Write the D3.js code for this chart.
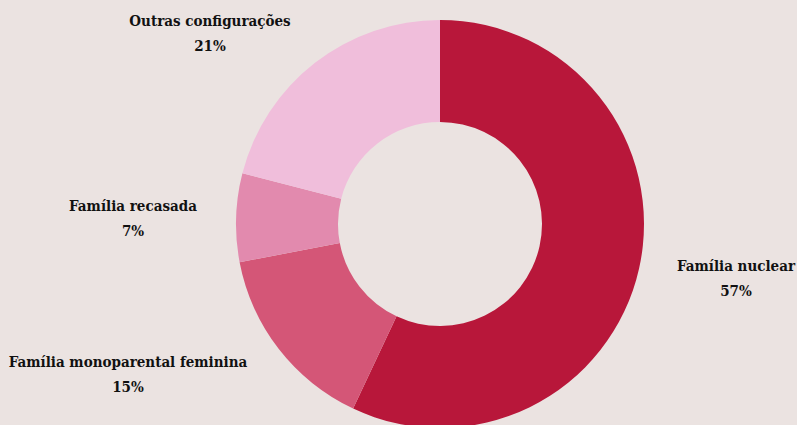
<!DOCTYPE html>
<html>
<head>
<meta charset="utf-8">
<script src="https://d3js.org/d3.v7.min.js"></script>
<style>
  html, body { margin: 0; padding: 0; background: #ebe3e1; }
  svg { display: block; }
  text { font-family: "DejaVu Serif Condensed", "DejaVu Serif", serif; font-weight: bold; fill: #111; }
</style>
</head>
<body>
<div id="chart"></div>
<script>
// data
var categories = ["Família nuclear", "Família monoparental feminina", "Família recasada", "Outras configurações"];
var values = [57, 15, 7, 21];
var colors = ["#b8173a", "#d45677", "#e28aae", "#f0bedb"];

var width = 797, height = 425;
var cx = 440, cy = 224;
var outerR = 204, innerR = 102;

// where the two-line labels sit (centre x, baseline of first line)
var labelPos = [[736, 271], [128, 367], [133, 211], [210, 26]];

var svg = d3.select("#chart").append("svg")
  .attr("width", width)
  .attr("height", height);

var g = svg.append("g").attr("transform", "translate(" + cx + "," + cy + ")");

var pie = d3.pie().sort(null).value(function(d){ return d; });
var arc = d3.arc().innerRadius(innerR).outerRadius(outerR);

var slices = pie(values);

g.selectAll("path")
  .data(slices)
  .enter()
  .append("path")
    .attr("d", arc)
    .attr("fill", function(d, i){ return colors[i]; });

var labels = svg.selectAll("g.lbl")
  .data(slices)
  .enter()
  .append("g")
    .attr("class", "lbl")
    .attr("transform", function(d, i){ return "translate(" + labelPos[i][0] + "," + labelPos[i][1] + ")"; });

labels.append("text")
  .attr("text-anchor", "middle")
  .style("font-size", "15px")
  .text(function(d, i){ return categories[i]; });

labels.append("text")
  .attr("text-anchor", "middle")
  .attr("y", 25)
  .style("font-size", "15px")
  .text(function(d){ return d.value + "%"; });
</script>
</body>
</html>
